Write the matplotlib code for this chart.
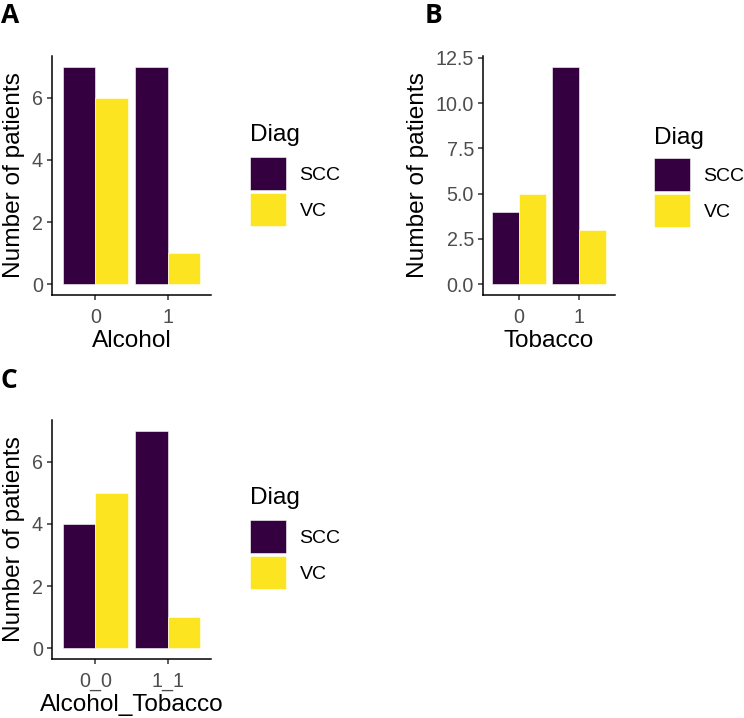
import matplotlib
matplotlib.use("Agg")
import matplotlib.pyplot as plt
from matplotlib.patches import Patch
import numpy as np

# ---- data ----
diag_levels = ["SCC", "VC"]
diag_colors = ["#35003F", "#FDE421"]

alcohol_cats = ["0", "1"]
alcohol_scc = [7, 7]
alcohol_vc = [6, 1]

tobacco_cats = ["0", "1"]
tobacco_scc = [4, 12]
tobacco_vc = [5, 3]

combo_cats = ["0_0", "1_1"]
combo_scc = [4, 7]
combo_vc = [5, 1]

W, H = 744, 718
plt.rcParams['font.family'] = ['Liberation Sans', 'DejaVu Sans']

fig = plt.figure(figsize=(W / 100, H / 100), dpi=100)


def px_axes(left, top, right, bottom):
    return fig.add_axes([left / W, 1 - bottom / H, (right - left) / W, (bottom - top) / H])


def bar_panel(ax, cats, scc, vc, xlabel, yticks, ylim):
    x = np.arange(len(cats))
    w = 0.45
    ax.bar(x - w / 2, scc, width=w, color=diag_colors[0], edgecolor="white", linewidth=0.4)
    ax.bar(x + w / 2, vc, width=w, color=diag_colors[1], edgecolor="white", linewidth=0.4)
    ax.set_xlim(-0.6, len(cats) - 0.4)
    ax.set_ylim(*ylim)
    ax.set_xticks(x)
    ax.set_xticklabels(cats)
    ax.set_yticks(yticks)
    ax.set_yticklabels(yticks)
    for s in ["top", "right"]:
        ax.spines[s].set_visible(False)
    for s in ["left", "bottom"]:
        ax.spines[s].set_linewidth(1.1)
        ax.spines[s].set_color("black")
    ax.tick_params(length=3.5, width=1.1, color="#333333", labelcolor="#4D4D4D",
                   labelsize=14.2, pad=3)
    ax.tick_params(axis="x", pad=6)
    ax.set_xlabel(xlabel, fontsize=17.6, labelpad=2)
    ax.set_ylabel("Number of patients", fontsize=17.6, labelpad=5)


def add_legend(left, key_top, title_base):
    # legend title drawn as text, keys via fig.legend
    fig.text(left / W, 1 - title_base / H, "Diag", fontsize=17.6, ha="left", va="baseline")
    handles = [Patch(facecolor=c, edgecolor="white", linewidth=0.4) for c in diag_colors]
    leg = fig.legend(handles, diag_levels, loc="upper left",
                     bbox_to_anchor=(left / W, 1 - key_top / H), frameon=False,
                     fontsize=14.0, handlelength=1.85,
                     handleheight=2.25, labelspacing=0.15, handletextpad=0.7,
                     borderpad=0, borderaxespad=0)
    return leg


axA = px_axes(52, 56, 211, 295)
bar_panel(axA, alcohol_cats, alcohol_scc, alcohol_vc, "Alcohol", [0, 2, 4, 6], (-0.35, 7.35))
add_legend(250, 157, 141)

axB = px_axes(483, 56, 615, 295)
bar_panel(axB, tobacco_cats, tobacco_scc, tobacco_vc, "Tobacco",
          [0.0, 2.5, 5.0, 7.5, 10.0, 12.5], (-0.6, 12.6))
axB.set_yticklabels(["0.0", "2.5", "5.0", "7.5", "10.0", "12.5"])
add_legend(654, 158, 144)

axC = px_axes(52, 420, 211, 659)
bar_panel(axC, combo_cats, combo_scc, combo_vc, "Alcohol_Tobacco", [0, 2, 4, 6], (-0.35, 7.35))
add_legend(250, 520, 504)

# panel letters
for lab, (px, py) in {"A": (1, 2), "B": (425, 2), "C": (0, 367)}.items():
    fig.text(px / W, 1 - py / H, lab, fontsize=19, fontweight="bold",
             family=["Open Sans", "DejaVu Sans"], va="top", ha="left")

fig.savefig("out.png", dpi=100)
